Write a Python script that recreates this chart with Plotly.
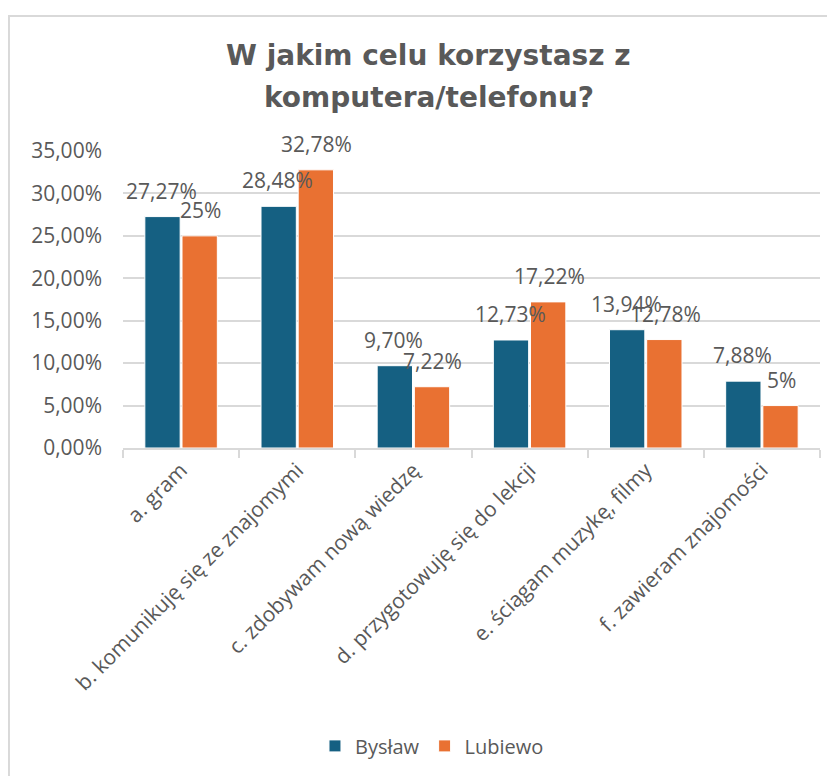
import plotly.graph_objects as go

categories = [
    "a. gram",
    "b. komunikuję się ze znajomymi",
    "c. zdobywam nową wiedzę",
    "d. przygotowuję się do lekcji",
    "e. ściągam muzykę, filmy",
    "f. zawieram znajomości",
]
bystaw = [27.27, 28.48, 9.70, 12.73, 13.94, 7.88]
lubiewo = [25.00, 32.78, 7.22, 17.22, 12.78, 5.00]
series_names = ["Bysław", "Lubiewo"]
title_lines = ["W jakim celu korzystasz z", "komputera/telefonu?"]
colors = ["#156082", "#E97132"]

TXT = "#595959"
GRID = "#d9d9d9"
FONT = "Open Sans, Arial, sans-serif"
TFONT = "DejaVu Sans, Open Sans, sans-serif"


def fmt(v):
    s = f"{v:.2f}".replace(".", ",")
    if s.endswith(",00"):
        s = s[:-3]
    return s + "%"


fig = go.Figure()
for name, vals, col in zip(series_names, [bystaw, lubiewo], colors):
    fig.add_trace(go.Bar(
        name=name, x=categories, y=[v / 100 for v in vals],
        marker=dict(color=col, line=dict(color="white", width=1)),
    ))

annotations = []
for vals, shift in zip([bystaw, lubiewo], [-19.5, 19.5]):
    for c, v in zip(categories, vals):
        annotations.append(dict(
            x=c, y=v / 100, xref="x", yref="y", text=fmt(v),
            showarrow=False, xshift=shift, yshift=10, yanchor="bottom",
            font=dict(size=21, color=TXT, family=FONT),
        ))

for line, yp in zip(title_lines, [1.322, 1.1785]):
    annotations.append(dict(
        x=0.439, y=yp, xref="paper", yref="paper", text=f"<b>{line}</b>",
        showarrow=False, xanchor="center", yanchor="middle",
        font=dict(size=28, color=TXT, family=TFONT),
    ))

fig.update_layout(
    width=835, height=776,
    paper_bgcolor="white", plot_bgcolor="white",
    margin=dict(l=115, r=23, t=143, b=336, autoexpand=False),
    separators=",.",
    font=dict(family=FONT, color=TXT),
    barmode="group", bargap=0.36, bargroupgap=0.05,
    showlegend=True,
    legend=dict(
        orientation="h", x=0.4433, xanchor="center", y=-1.003, yanchor="middle",
        font=dict(size=20, color=TXT, family=FONT),
    ),
    annotations=annotations,
    shapes=[dict(
        type="rect", xref="paper", yref="paper",
        x0=-0.1636, x1=1.2, y0=-2.0, y1=1.4545,
        line=dict(color=GRID, width=2), fillcolor="rgba(0,0,0,0)", layer="below",
    )],
)
fig.update_yaxes(
    range=[0, 0.35], dtick=0.05, tickformat=".2%",
    showgrid=True, gridcolor=GRID, gridwidth=1.5,
    zeroline=False, showline=False, automargin=False,
    tickfont=dict(size=21, color=TXT, family=FONT),
    ticklabelstandoff=20,
)
fig.update_xaxes(
    showline=True, linecolor=GRID, linewidth=1.5, automargin=False,
    ticks="outside", tickson="boundaries", ticklen=8, tickcolor=GRID, tickwidth=1.5,
    tickangle=-45,
    tickfont=dict(size=21, color=TXT, family=FONT),
)

fig.write_html("out.html")
